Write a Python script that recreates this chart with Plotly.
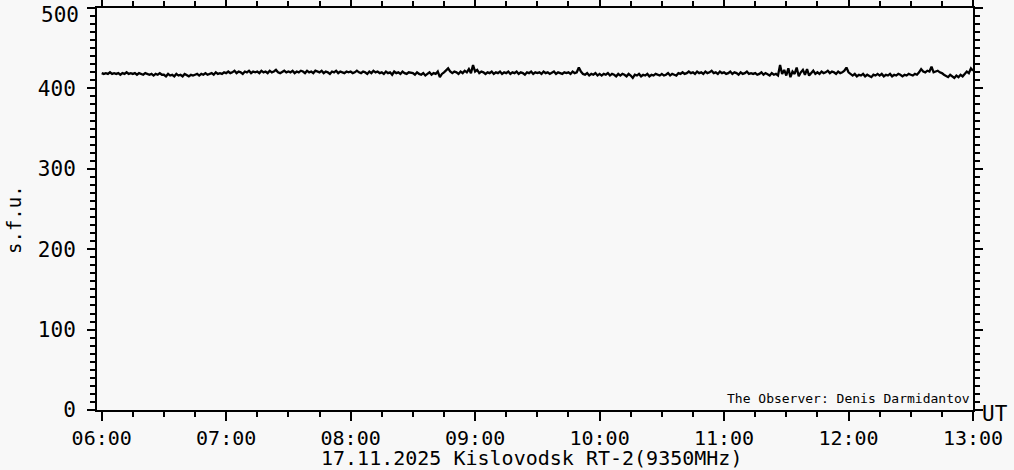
import pandas as pd
import plotly.graph_objects as go

# ---------------- data (one value per minute, s.f.u.) ----------------
start_time = "2025-11-17 06:00"
flux_0600 = [419, 418, 419, 418, 420, 418, 419, 418, 419, 417, 419, 418, 420, 418, 419]
flux_0615 = [418, 419, 417, 419, 418, 417, 419, 418, 417, 418, 416, 418, 417, 419, 417]
flux_0630 = [417, 415, 418, 416, 417, 415, 418, 416, 417, 415, 418, 416, 415, 417, 416]
flux_0645 = [417, 418, 416, 418, 417, 419, 417, 418, 419, 417, 420, 418, 419, 418, 420]
flux_0700 = [419, 421, 419, 420, 422, 419, 421, 420, 418, 421, 420, 422, 419, 421, 420]
flux_0715 = [421, 419, 422, 420, 421, 419, 422, 420, 421, 423, 420, 419, 421, 422, 420]
flux_0730 = [421, 420, 422, 419, 421, 420, 422, 421, 419, 422, 420, 421, 419, 422, 421]
flux_0745 = [420, 422, 419, 421, 420, 418, 421, 420, 422, 419, 421, 420, 419, 421, 420]
flux_0800 = [421, 419, 420, 422, 420, 419, 421, 420, 418, 421, 419, 422, 420, 421, 419]
flux_0815 = [420, 418, 421, 419, 420, 417, 421, 419, 420, 418, 421, 419, 418, 420, 419]
flux_0830 = [419, 417, 420, 418, 417, 419, 416, 418, 420, 417, 419, 418, 421, 414, 418]
flux_0845 = [420, 422, 425, 421, 419, 421, 420, 418, 421, 419, 422, 420, 424, 419, 429]
flux_0900 = [421, 423, 419, 421, 420, 418, 420, 419, 421, 418, 420, 419, 421, 418, 420]
flux_0915 = [419, 421, 418, 420, 419, 421, 418, 420, 419, 417, 420, 419, 421, 418, 420]
flux_0930 = [419, 420, 418, 421, 419, 420, 418, 419, 421, 418, 420, 419, 418, 420, 419]
flux_0945 = [420, 418, 421, 419, 420, 426, 421, 418, 417, 419, 416, 418, 417, 419, 416]
flux_1000 = [418, 416, 418, 417, 419, 416, 418, 417, 415, 418, 416, 418, 417, 415, 418]
flux_1015 = [416, 413, 417, 416, 418, 415, 417, 416, 418, 415, 417, 416, 418, 417, 416]
flux_1030 = [418, 416, 417, 419, 416, 418, 417, 416, 419, 418, 420, 418, 419, 421, 419]
flux_1045 = [420, 418, 421, 419, 420, 418, 421, 419, 420, 422, 419, 420, 418, 421, 419]
flux_1100 = [420, 418, 419, 421, 418, 420, 419, 417, 420, 418, 419, 421, 418, 419, 418]
flux_1115 = [419, 417, 418, 420, 417, 419, 418, 416, 419, 417, 418, 416, 429, 418, 423]
flux_1130 = [416, 425, 414, 421, 418, 426, 415, 420, 423, 417, 424, 416, 419, 422, 418]
flux_1145 = [420, 418, 421, 419, 420, 422, 419, 421, 420, 418, 421, 419, 420, 422, 426]
flux_1200 = [420, 418, 416, 418, 415, 417, 416, 418, 415, 417, 416, 414, 417, 416, 418]
flux_1215 = [416, 418, 415, 417, 416, 418, 415, 417, 416, 418, 417, 415, 417, 416, 418]
flux_1230 = [417, 416, 418, 417, 420, 424, 421, 420, 422, 421, 427, 420, 421, 422, 420]
flux_1245 = [419, 417, 416, 414, 417, 415, 413, 416, 414, 417, 415, 418, 421, 419, 425]
flux_1300 = [422]

y_ticks = [0, 100, 200, 300, 400, 500]
y_tick_labels = ["0", "100", "200", "300", "400", "500"]
x_tick_labels = ["06:00", "07:00", "08:00", "09:00", "10:00", "11:00", "12:00", "13:00"]
title_text = "17.11.2025 Kislovodsk RT-2(9350MHz)"
observer_text = "The Observer: Denis Darmidantov"

flux = (flux_0600 + flux_0615 + flux_0630 + flux_0645 + flux_0700 + flux_0715 + flux_0730
        + flux_0745 + flux_0800 + flux_0815 + flux_0830 + flux_0845 + flux_0900 + flux_0915
        + flux_0930 + flux_0945 + flux_1000 + flux_1015 + flux_1030 + flux_1045 + flux_1100
        + flux_1115 + flux_1130 + flux_1145 + flux_1200 + flux_1215 + flux_1230 + flux_1245
        + flux_1300)
times = pd.date_range(start_time, periods=len(flux), freq="1min")

# ---------------- layout constants ----------------
W, H = 1014, 470
L, R, T, B = 97, 41, 8, 60
PW, PH = W - L - R, H - T - B
BG = "#f8f8f8"
FONT = "DejaVu Sans Mono"


def px(x):
    return (x - L) / PW


def py(y):
    return (H - B - y) / PH


fig = go.Figure()
fig.add_trace(go.Scatter(x=times, y=flux, mode="lines",
                         line=dict(color="black", width=2.3), hoverinfo="skip"))

tick_vals = pd.date_range("2025-11-17 06:00", "2025-11-17 13:00", freq="1h")

# the top label (500) sits just inside the frame in the reference; draw it as a
# separate text so it is not clipped by the page edge
axis_labels = y_tick_labels[:-1] + [""]

fig.update_layout(
    template="none",
    width=W, height=H,
    margin=dict(l=L, r=R, t=T, b=B, pad=0, autoexpand=False),
    paper_bgcolor=BG, plot_bgcolor=BG,
    showlegend=False,
    font=dict(family=FONT, color="black"),
    xaxis=dict(
        automargin=False,
        range=["2025-11-17 05:57:44", "2025-11-17 13:00"],
        tickvals=tick_vals, ticktext=x_tick_labels,
        ticks="outside", ticklen=9, tickwidth=2, tickcolor="black",
        showline=True, linewidth=2, linecolor="black", mirror="allticks",
        showgrid=False, zeroline=False,
        tickfont=dict(family=FONT, size=20, color="black"),
        ticklabelstandoff=0,
        ticklabeloverflow="allow",
        minor=dict(dtick=15 * 60 * 1000, ticks="outside", ticklen=5,
                   tickwidth=2, tickcolor="black", showgrid=False),
    ),
    yaxis=dict(
        automargin=False,
        range=[0, 500],
        tickvals=y_ticks, ticktext=axis_labels,
        ticks="outside", ticklen=8, tickwidth=2, tickcolor="black",
        showline=True, linewidth=2, linecolor="black", mirror="allticks",
        showgrid=False, zeroline=False,
        tickfont=dict(family=FONT, size=21, color="black"),
        ticklabelstandoff=7,
        ticklabeloverflow="allow",
        minor=dict(dtick=10, ticks="outside", ticklen=5,
                   tickwidth=2, tickcolor="black", showgrid=False),
    ),
)

fig.add_annotation(text=y_tick_labels[-1], xref="paper", yref="paper",
                   x=px(81), y=py(15), xanchor="right", yanchor="middle",
                   showarrow=False, font=dict(family=FONT, size=21, color="black"))
fig.add_annotation(text=title_text, xref="paper", yref="paper",
                   x=px(531), y=py(458.5), xanchor="center", yanchor="middle",
                   showarrow=False, font=dict(family=FONT, size=20, color="black"))
fig.add_annotation(text="UT", xref="paper", yref="paper",
                   x=px(980), y=py(414), xanchor="left", yanchor="middle",
                   showarrow=False, font=dict(family=FONT, size=21, color="black"))
fig.add_annotation(text="s.f.u.", xref="paper", yref="paper",
                   x=px(14), y=py(220), xanchor="center", yanchor="middle",
                   textangle=-90, showarrow=False,
                   font=dict(family=FONT, size=19, color="black"))
fig.add_annotation(text=observer_text, xref="paper", yref="paper",
                   x=px(972), y=py(398), xanchor="right", yanchor="middle",
                   showarrow=False, font=dict(family=FONT, size=13, color="black"))

fig.write_html("out.html", post_script="document.body.style.margin='0';",
               config={"displayModeBar": False})
